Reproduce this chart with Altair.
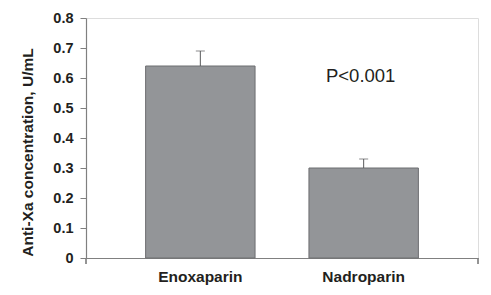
import altair as alt
import pandas as pd

drugs = ["Enoxaparin", "Nadroparin"]
means = [0.64, 0.30]
errors = [0.05, 0.03]
y_ticks = [0, 0.1, 0.2, 0.3, 0.4, 0.5, 0.6, 0.7, 0.8]
p_label = "P<0.001"

df = pd.DataFrame({"drug": drugs, "mean": means, "err": errors})
df["upper"] = df["mean"] + df["err"]

FONT = "Liberation Sans"

x_scale = alt.Scale(domain=drugs, paddingInner=0.33, paddingOuter=0.365)
x_axis = alt.Axis(title=None, labelAngle=0, labelFont=FONT, labelFontSize=15.5,
                  labelFontWeight="bold", labelColor="#231f20", labelPadding=11,
                  ticks=False, domainColor="#808080", domainWidth=1.2)
y_scale = alt.Scale(domain=[0, 0.8], nice=False)
y_axis = alt.Axis(title="Anti-Xa concentration, U/mL", values=y_ticks, format="~g",
                  grid=False, labelFont=FONT, labelFontSize=14.5, labelFontWeight="bold",
                  labelColor="#231f20", tickSize=6, tickColor="#808080",
                  domainColor="#808080", domainWidth=1.2, labelPadding=7,
                  titleFont=FONT, titleFontSize=15.5, titleFontWeight="bold",
                  titleColor="#231f20", titlePadding=17, titleY=134)


def X():
    return alt.X("drug:N", scale=x_scale, axis=x_axis)


def Y(field):
    return alt.Y(field, scale=y_scale, axis=y_axis)


bars = alt.Chart(df).mark_bar(color="#939598", stroke="#6d6e71", strokeWidth=1).encode(
    x=X(), y=Y("mean:Q"),
)

err_rule = alt.Chart(df).mark_rule(color="#58595b", strokeWidth=1).encode(
    x=X(), y=Y("mean:Q"), y2="upper:Q",
)
err_cap = alt.Chart(df).mark_tick(color="#58595b", thickness=1, size=9, orient="horizontal").encode(
    x=X(), y=Y("upper:Q"),
)

pdf = pd.DataFrame({"drug": [drugs[1]], "mean": [0.607], "t": [p_label]})
ptext = alt.Chart(pdf).mark_text(
    font=FONT, fontSize=18.5, color="#231f20", baseline="middle", dx=-3
).encode(
    x=X(), y=Y("mean:Q"), text="t:N",
)

tick_left = alt.Chart(df).mark_rule(color="#808080", strokeWidth=1.2).encode(
    x=alt.value(0), y=alt.value(240), y2=alt.value(246),
)
tick_right = alt.Chart(df).mark_rule(color="#808080", strokeWidth=1.2).encode(
    x=alt.value(392), y=alt.value(240), y2=alt.value(246),
)

chart = alt.layer(bars, err_rule, err_cap, ptext, tick_left, tick_right).properties(
    width=392, height=240,
    autosize=alt.AutoSizeParams(type="none"),
    padding={"left": 86, "top": 18, "right": 13, "bottom": 37},
).configure_view(stroke=None).configure(background="white")

chart.save("out.html", embed_options={"renderer": "svg", "actions": False})
